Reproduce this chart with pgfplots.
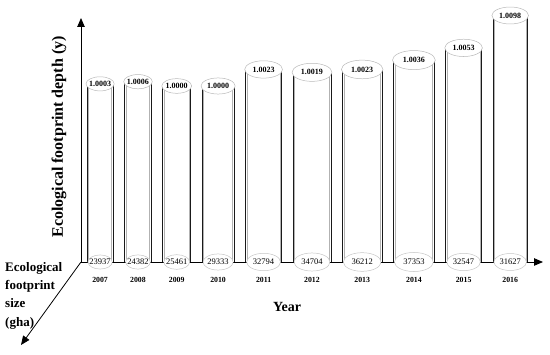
\documentclass[border=0pt]{standalone}
\usepackage{pgfplots}
\pgfplotsset{compat=1.18}
\usepackage{pgfplotstable}
\usepackage{fontspec}
\setmainfont{Liberation Serif}
\usetikzlibrary{arrows.meta}

% x = centre of the cylinder, w = its width (both in px of the figure)
% d = ecological footprint depth, s = ecological footprint size (gha)
\pgfplotstableread{
year x     w     d      s
2007 100.1 26.2  1.0003 23937
2008 138.0 26.6  1.0006 24382
2009 176.7 27.8  1.0000 25461
2010 218.1 32.1  1.0000 29333
2011 263.6 35.8  1.0023 32794
2012 312.0 37.9  1.0019 34704
2013 362.2 39.6  1.0023 36212
2014 413.9 40.8  1.0036 37353
2015 463.6 35.6  1.0053 32547
2016 510.2 34.6  1.0098 31627
}\data

\newdimen\rxd \newdimen\ryd
% ellipse of a cylinder end; #1 = cylinder width, #2 = extra half width, #3 = colour
\newcommand\cylcap[3]{%
  \rxd=#1pt \divide\rxd by 2 \advance\rxd by #2
  \ryd=#1pt \ryd=0.17\ryd \advance\ryd by 2.6pt
  \draw[#3, fill=white, line width=0.5pt] (0pt,0pt) ellipse [x radius=\the\rxd, y radius=\the\ryd];}

\pgfplotsset{
  edge/.style={draw=none, mark=none, forget plot,
    error bars/.cd, y dir=minus, y explicit, error mark=none,
    error bar style={#1}},
  cap/.style={scatter, only marks, mark=*, mark size=0pt,
    mark options={draw=none, fill=none},
    point meta=explicit symbolic,
    scatter/@pre marker code/.code={#1},
    scatter/@post marker code/.code={}},
  lab/.style={draw=none, mark=none, point meta=explicit symbolic,
    nodes near coords,
    every node near coord/.append style={anchor=center, inner sep=0pt, #1}},
}

\begin{document}
\begin{tikzpicture}
\begin{axis}[
  scale only axis, width=462pt, height=244pt,
  xmin=81, xmax=543, ymin=0.975535, ymax=1.009452,
  hide axis, clip=false,
]
% page frame
\path (axis cs:0,0.962608) rectangle (axis cs:550,1.011954);

% axes
\draw[line width=0.8pt, -{Triangle[length=9pt,width=7.5pt]}]
  (rel axis cs:0,0) -- (rel axis cs:1,0);
\draw[line width=0.8pt, -{Triangle[length=9pt,width=7.5pt]}]
  (rel axis cs:0,0) -- (rel axis cs:0,1);
\draw[line width=0.8pt, -{Triangle[length=9pt,width=7.5pt]}]
  (rel axis cs:0,0) -- (axis cs:21,0.963998);

% cylinder walls
\addplot[edge={black!90, line width=0.7pt}] table[x expr=\thisrow{x}-0.5*\thisrow{w}, y=d,
  y error expr=\thisrow{d}-0.975535] {\data};
\addplot[edge={black!90, line width=0.7pt}] table[x expr=\thisrow{x}+0.5*\thisrow{w}, y=d,
  y error expr=\thisrow{d}-0.975535] {\data};
\addplot[edge={gray!60, line width=0.5pt}] table[x expr=\thisrow{x}-0.5*\thisrow{w}+1.6, y=d,
  y error expr=\thisrow{d}-0.975535] {\data};
\addplot[edge={gray!60, line width=0.5pt}] table[x expr=\thisrow{x}+0.5*\thisrow{w}-1.6, y=d,
  y error expr=\thisrow{d}-0.975535] {\data};

% top ends: depth
\addplot[cap={\cylcap{\pgfplotspointmeta}{1pt}{gray!55}}] table[x=x, y=d, meta=w] {\data};
\addplot[lab={font=\bfseries\fontsize{8}{8}\selectfont}] table[x=x, y=d, meta=d] {\data};

% bottom ends: size
\addplot[cap={\cylcap{\pgfplotspointmeta}{-1pt}{gray!45}}] table[x=x, y expr=0.975535, meta=w] {\data};
\addplot[lab={font=\fontsize{8.5}{8.5}\selectfont}] table[x=x, y expr=0.975535, meta=s] {\data};

% years
\addplot[lab={font=\bfseries\fontsize{7.8}{7.8}\selectfont, yshift=-18pt}]
  table[x=x, y expr=0.975535, meta=year] {\data};

% labels
\node[rotate=90, font=\bfseries\fontsize{16}{18}\selectfont]
  at (axis cs:59,0.992911) {Ecological footprint depth (y)};
\node[font=\bfseries\fontsize{14}{16}\selectfont]
  at (axis cs:287,0.969280) {Year};
\node[anchor=north west, inner sep=0pt, align=left,
  font=\bfseries\fontsize{13}{18.3}\selectfont]
  at (axis cs:5,0.975535) {Ecological\\footprint\\size\\(gha)};
\end{axis}
\end{tikzpicture}
\end{document}
